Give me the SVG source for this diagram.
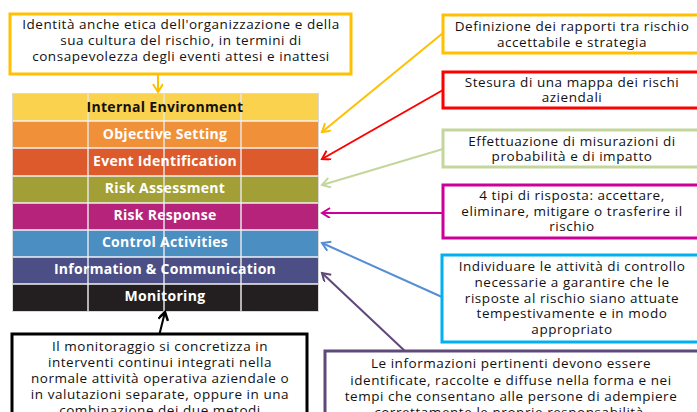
<svg xmlns="http://www.w3.org/2000/svg" width="697" height="412" viewBox="0 0 697 412">
<style>
.t{font-family:"Open Sans","Liberation Sans",sans-serif;font-size:13.5px;letter-spacing:0.55px;fill:#111;text-anchor:middle}
.g{font-family:"Open Sans","Liberation Sans",sans-serif;font-size:14px;letter-spacing:0.3px;font-weight:bold;fill:#fff;text-anchor:middle}
.box{fill:#fff;stroke-width:3}
.c{fill:none;stroke-width:2}
</style>
<defs>
<marker id="mY" markerWidth="12" markerHeight="12" refX="9" refY="5" orient="auto" markerUnits="userSpaceOnUse"><path d="M1,0 L9,5 L1,10" fill="none" stroke="#FFC000" stroke-width="2"/></marker>
<marker id="mR" markerWidth="12" markerHeight="12" refX="9" refY="5" orient="auto" markerUnits="userSpaceOnUse"><path d="M1,0 L9,5 L1,10" fill="none" stroke="#FF0000" stroke-width="2"/></marker>
<marker id="mG" markerWidth="12" markerHeight="12" refX="9" refY="5" orient="auto" markerUnits="userSpaceOnUse"><path d="M1,0 L9,5 L1,10" fill="none" stroke="#C3D69B" stroke-width="2"/></marker>
<marker id="mM" markerWidth="12" markerHeight="12" refX="9" refY="5" orient="auto" markerUnits="userSpaceOnUse"><path d="M1,0 L9,5 L1,10" fill="none" stroke="#CC0099" stroke-width="2"/></marker>
<marker id="mB" markerWidth="12" markerHeight="12" refX="9" refY="5" orient="auto" markerUnits="userSpaceOnUse"><path d="M1,0 L9,5 L1,10" fill="none" stroke="#558ED5" stroke-width="2"/></marker>
<marker id="mP" markerWidth="12" markerHeight="12" refX="9" refY="5" orient="auto" markerUnits="userSpaceOnUse"><path d="M1,0 L9,5 L1,10" fill="none" stroke="#5F497A" stroke-width="2"/></marker>
<marker id="mK" markerWidth="12" markerHeight="12" refX="9" refY="5" orient="auto" markerUnits="userSpaceOnUse"><path d="M1,0 L9,5 L1,10" fill="none" stroke="#000" stroke-width="2.5"/></marker>
</defs>
<rect width="697" height="412" fill="#fff"/>

<g id="erm-grid">
<rect x="12" y="93" width="307" height="219" fill="#d9d9d9"/>
<rect x="13" y="94" width="305" height="27" fill="#FBD24E"/>
<rect x="13" y="121" width="305" height="27" fill="#F0913A"/>
<rect x="13" y="148" width="305" height="28" fill="#DC5A2C"/>
<rect x="13" y="176" width="305" height="27" fill="#A19F35"/>
<rect x="13" y="203" width="305" height="27" fill="#B5247A"/>
<rect x="13" y="230" width="305" height="27" fill="#4A8EC2"/>
<rect x="13" y="257" width="305" height="27" fill="#4C4F86"/>
<rect x="13" y="284" width="305" height="27" fill="#231F20"/>
<g stroke="#e6e6e6" stroke-width="1.5">
<line x1="88" y1="94" x2="88" y2="311"/>
<line x1="164" y1="94" x2="164" y2="311"/>
<line x1="241" y1="94" x2="241" y2="311"/>
</g>
<g stroke="#f2f2f2" stroke-width="1.5">
<line x1="13" y1="121" x2="318" y2="121"/>
<line x1="13" y1="148" x2="318" y2="148"/>
<line x1="13" y1="176" x2="318" y2="176"/>
<line x1="13" y1="203" x2="318" y2="203"/>
<line x1="13" y1="230" x2="318" y2="230"/>
<line x1="13" y1="257" x2="318" y2="257"/>
<line x1="13" y1="284" x2="318" y2="284"/>
</g>
<text class="g" x="165" y="112" style="fill:#111">Internal Environment</text>
<text class="g" x="165" y="139">Objective Setting</text>
<text class="g" x="165" y="166">Event Identification</text>
<text class="g" x="165" y="193">Risk Assessment</text>
<text class="g" x="165" y="220">Risk Response</text>
<text class="g" x="165" y="247">Control Activities</text>
<text class="g" x="165" y="274">Information &amp; Communication</text>
<text class="g" x="165" y="301">Monitoring</text>
</g>

<g id="connectors">
<line class="c" x1="158" y1="75" x2="158" y2="92" stroke="#FFC000" marker-end="url(#mY)"/>
<line class="c" x1="443" y1="33" x2="322" y2="132" stroke="#FFC000" marker-end="url(#mY)"/>
<line class="c" x1="443" y1="90" x2="322" y2="159" stroke="#FF0000" marker-end="url(#mR)"/>
<line class="c" x1="443" y1="149" x2="322" y2="185" stroke="#C3D69B" marker-end="url(#mG)"/>
<line class="c" x1="443" y1="213" x2="322" y2="213" stroke="#CC0099" marker-end="url(#mM)"/>
<line class="c" x1="442" y1="297" x2="322" y2="243" stroke="#558ED5" marker-end="url(#mB)"/>
<line class="c" x1="407" y1="353" x2="322" y2="273" stroke="#5F497A" marker-end="url(#mP)"/>
<line class="c" x1="159" y1="336" x2="165" y2="312" stroke="#000" stroke-width="2.5" marker-end="url(#mK)"/>
</g>

<g id="box-internal">
<rect class="box" x="10" y="14" width="341" height="60" stroke="#FFC000"/>
<text class="t" x="181" y="29">Identità anche etica dell'organizzazione e della</text>
<text class="t" x="181" y="45">sua cultura del rischio, in termini di</text>
<text class="t" x="181" y="61">consapevolezza degli eventi attesi e inattesi</text>
</g>

<g id="box-objective">
<rect class="box" x="443" y="15" width="265" height="38" stroke="#FFC000"/>
<text class="t" x="572" y="31">Definizione dei rapporti tra rischio</text>
<text class="t" x="572" y="47">accettabile e strategia</text>
</g>

<g id="box-event">
<rect class="box" x="443" y="72" width="265" height="36" stroke="#FF0000"/>
<text class="t" x="572" y="87">Stesura di una mappa dei rischi</text>
<text class="t" x="572" y="102">aziendali</text>
</g>

<g id="box-assessment">
<rect class="box" x="443" y="130" width="265" height="37" stroke="#C3D69B"/>
<text class="t" x="572" y="146">Effettuazione di misurazioni di</text>
<text class="t" x="572" y="161">probabilità e di impatto</text>
</g>

<g id="box-response">
<rect class="box" x="443" y="185" width="265" height="53" stroke="#CC0099"/>
<text class="t" x="572" y="200">4 tipi di risposta: accettare,</text>
<text class="t" x="572" y="216">eliminare, mitigare o trasferire il</text>
<text class="t" x="572" y="231">rischio</text>
</g>

<g id="box-control">
<rect class="box" x="442" y="255" width="265" height="87" stroke="#00B0F0"/>
<text class="t" x="572" y="271">Individuare le attività di controllo</text>
<text class="t" x="572" y="287">necessarie a garantire che le</text>
<text class="t" x="572" y="303">risposte al rischio siano attuate</text>
<text class="t" x="572" y="318">tempestivamente e in modo</text>
<text class="t" x="572" y="334">appropriato</text>
</g>

<g id="box-information">
<rect class="box" x="325" y="351" width="385" height="70" stroke="#5F497A"/>
<text class="t" x="511" y="368">Le informazioni pertinenti devono essere</text>
<text class="t" x="511" y="385">identificate, raccolte e diffuse nella forma e nei</text>
<text class="t" x="511" y="401">tempi che consentano alle persone di adempiere</text>
<text class="t" x="511" y="417">correttamente le proprie responsabilità.</text>
</g>

<g id="box-monitoring">
<rect class="box" x="12" y="334" width="295" height="90" stroke="#000"/>
<text class="t" x="160" y="351">Il monitoraggio si concretizza in</text>
<text class="t" x="160" y="367">interventi continui integrati nella</text>
<text class="t" x="160" y="383">normale attività operativa aziendale o</text>
<text class="t" x="160" y="399">in valutazioni separate, oppure in una</text>
<text class="t" x="160" y="415">combinazione dei due metodi</text>
</g>
</svg>
